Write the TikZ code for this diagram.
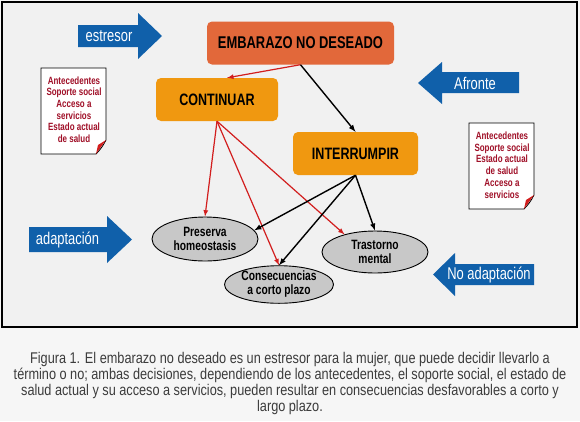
\documentclass[tikz,border=0pt]{standalone}
\usepackage{fontspec}
\setmainfont{Liberation Sans}
\newfontfamily\condfont[FakeStretch=0.76]{Liberation Sans}
\newfontfamily\capfont[FakeStretch=0.82]{Liberation Sans}
\usetikzlibrary{arrows,shapes.geometric}

\definecolor{arrowblue}{RGB}{16,96,170}
\definecolor{embcolor}{RGB}{226,104,58}
\definecolor{boxorange}{RGB}{240,152,16}
\definecolor{ellgray}{RGB}{200,200,200}
\definecolor{linered}{RGB}{210,30,30}
\definecolor{notered}{RGB}{160,16,40}
\definecolor{framegray}{RGB}{241,241,241}
\definecolor{bggray}{RGB}{246,246,246}
\definecolor{capgray}{RGB}{60,60,60}

\begin{document}
\begin{tikzpicture}[
    x=1pt, y=-1pt,
    every node/.style={inner sep=0pt, font=\condfont\bfseries},
    box/.style={rounded corners=5pt, minimum height=43pt, text=black,
        font=\condfont\bfseries\fontsize{16.5}{18}\selectfont},
    bluearrow/.style={fill=arrowblue},
    arrowtxt/.style={text=white, font=\condfont\fontsize{17}{19}\selectfont},
    result/.style={ellipse, draw=black, line width=0.9pt, fill=ellgray, align=center,
        font=\condfont\bfseries\fontsize{13.5}{14}\selectfont},
    notepaper/.style={draw=black, line width=0.8pt, fill=white},
    notetxt/.style={text=notered, align=center,
        font=\condfont\bfseries\fontsize{10.5}{11.7}\selectfont},
    redline/.style={draw=linered, line width=1.2pt, -latex},
    blackline/.style={draw=black, line width=1.4pt, -latex},
]
    \useasboundingbox[fill=bggray] (0,0) rectangle (580,421);
    \draw[line width=2pt, fill=framegray] (2,2) rectangle (577,327);

    % blue arrows
    \fill[bluearrow] (78,25) -- (138,25) -- (138,13) -- (162,36) -- (138,59) -- (138,47) -- (78,47) -- cycle;
    \fill[bluearrow] (519,72) -- (442,72) -- (442,62) -- (418,83) -- (442,104) -- (442,93) -- (519,93) -- cycle;
    \fill[bluearrow] (29,227) -- (107,227) -- (107,216) -- (132,239.5) -- (107,263) -- (107,252) -- (29,252) -- cycle;
    \fill[bluearrow] (534,264) -- (455,264) -- (455,253) -- (433,274.5) -- (455,296) -- (455,285) -- (534,285) -- cycle;
    \node[arrowtxt] (estresor) at (109,36) {estresor};
    \node[arrowtxt] (afronte) at (475,83) {Afronte};
    \node[arrowtxt] (adaptacion) at (67.5,239.5) {adaptación};
    \node[arrowtxt] (noadaptacion) at (489,274.5) {No adaptación};

    % notes with folded corner
    \foreach \x/\y in {41/68, 469/123} {
        \filldraw[notepaper] (\x,\y) -- (\x+65,\y) -- (\x+65,\y+72)
            .. controls (\x+62,\y+78) and (\x+59,\y+82) .. (\x+55,\y+86) -- (\x,\y+86) -- cycle;
        \fill[linered] (\x+55,\y+86) -- (\x+65,\y+72) -- (\x+57,\y+77) -- cycle;
    }
    \node[notetxt] (notaizq) at (74,109.5) {Antecedentes\\Soporte social\\Acceso a\\servicios\\Estado actual\\de salud};
    \node[notetxt] (notader) at (502,165) {Antecedentes\\Soporte social\\Estado actual\\de salud\\Acceso a\\servicios};

    % boxes
    \node[box, fill=embcolor, minimum width=187pt, font=\condfont\bfseries\fontsize{17}{19}\selectfont] (embarazo) at (300.5,43) {EMBARAZO NO DESEADO};
    \node[box, fill=boxorange, minimum width=122pt] (continuar) at (217,99.5) {CONTINUAR};
    \node[box, fill=boxorange, minimum width=125pt] (interrumpir) at (355.5,153.5) {INTERRUMPIR};

    % outcomes
    \node[result, minimum width=106pt, minimum height=44pt] (preserva) at (205,239) {Preserva\\homeostasis};
    \node[result, minimum width=109pt, minimum height=37pt] (consec) at (279,284.5) {Consecuencias\\a corto plazo};
    \node[result, minimum width=106pt, minimum height=42pt] (trastorno) at (375,252) {Trastorno\\mental};

    \draw[redline] (embarazo.south) -- (continuar.65);
    \draw[blackline] (embarazo.south) -- (interrumpir.north);
    \foreach \t in {preserva.north, consec.north, trastorno.150}
        \draw[redline] (continuar.south) -- (\t);
    \foreach \t in {preserva.10, consec.north, trastorno.north}
        \draw[blackline] (interrumpir.south) -- (\t);

    \node[text=capgray, align=center, font=\capfont\fontsize{15.5}{16}\selectfont] (caption) at (290,383)
        {Figura 1. El embarazo no deseado es un estresor para la mujer, que puede decidir llevarlo a\\
         término o no; ambas decisiones, dependiendo de los antecedentes, el soporte social, el estado de\\
         salud actual y su acceso a servicios, pueden resultar en consecuencias desfavorables a corto y\\
         largo plazo.};
\end{tikzpicture}
\end{document}
